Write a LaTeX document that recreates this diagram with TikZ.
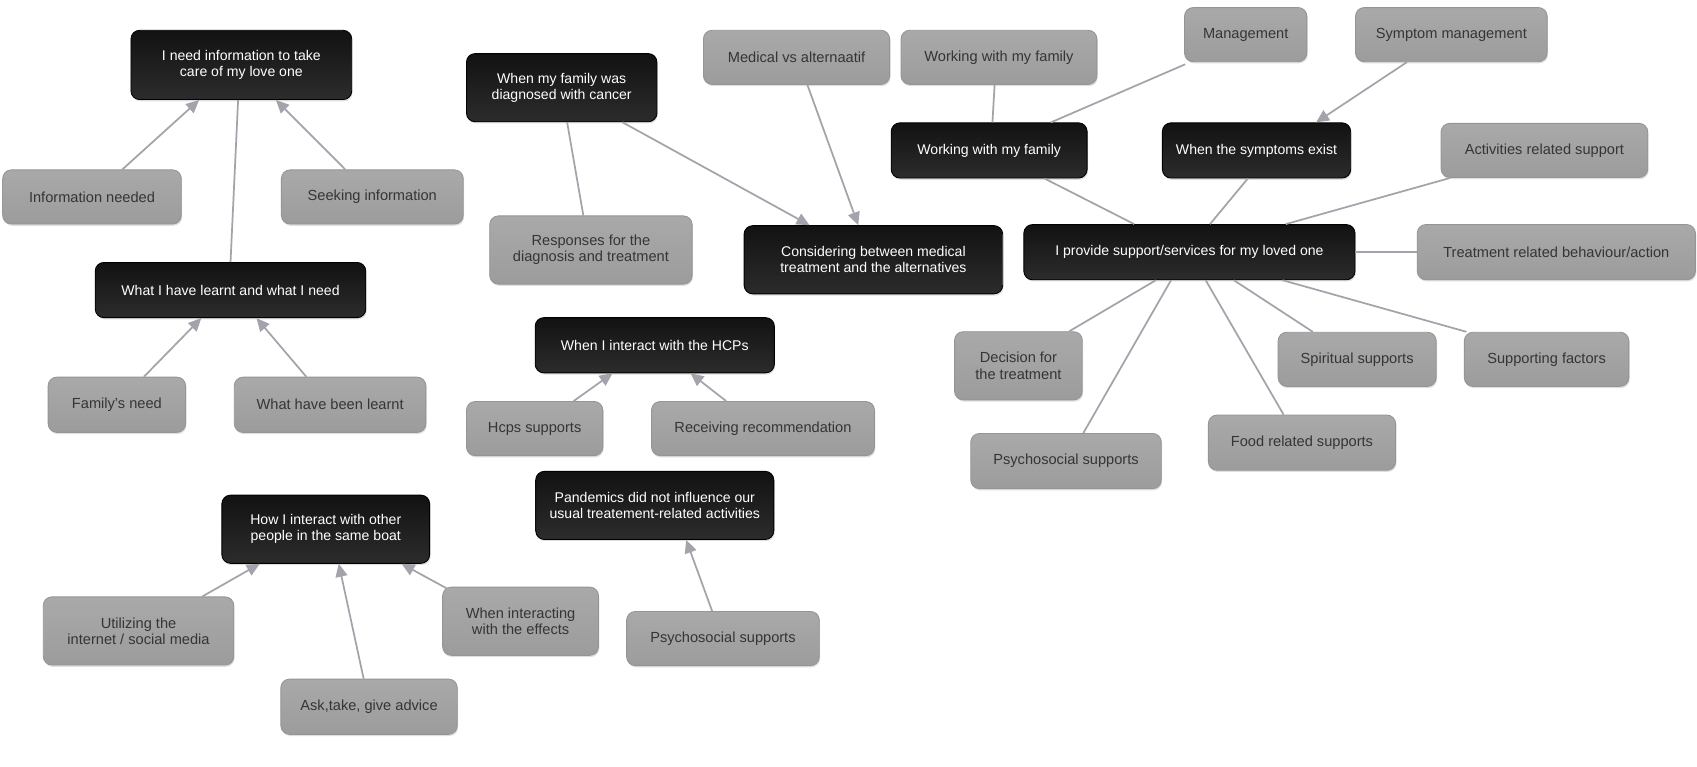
\documentclass[tikz,border=0pt]{standalone}
\usepackage{fontspec}
\setmainfont{Liberation Sans}
\usetikzlibrary{arrows.meta,shadows}
\definecolor{gfill}{HTML}{A9A9A9}
\definecolor{gfillb}{HTML}{9C9C9C}
\definecolor{gborder}{HTML}{959595}
\definecolor{gtext}{HTML}{353535}
\definecolor{bfill}{HTML}{121212}
\definecolor{bfillb}{HTML}{2C2C2C}
\definecolor{edgec}{HTML}{A3A3AB}
\tikzset{
  box/.style={rounded corners=8pt, align=center, inner sep=2pt,
    drop shadow={opacity=0.25, shadow xshift=0.8pt, shadow yshift=-1.6pt}},
  gbox/.style={box, draw=gborder, line width=0.8pt, top color=gfill, bottom color=gfillb, text=gtext,
    font=\fontsize{13.5}{15}\selectfont},
  bbox/.style={box, draw=black, line width=0.8pt, top color=bfill, bottom color=bfillb, text=white,
    font=\fontsize{13}{15}\selectfont},
  link/.style={draw=edgec, line width=1.6pt},
  arr/.style={link, -{Triangle[length=12pt,width=11pt]}}
}
\begin{document}
\begin{tikzpicture}[x=1pt,y=-1pt]
\useasboundingbox[fill=white] (0,0) rectangle (1568,708);
% black nodes
\node[bbox, minimum width=204pt, minimum height=64pt] (n1) at (223,60) {I need information to take\\care of my love one};
\node[bbox, minimum width=250pt, minimum height=51pt] (n2) at (213,268) {What I have learnt and what I need};
\node[bbox, minimum width=176pt, minimum height=63pt] (n3) at (519,81) {When my family was\\diagnosed with cancer};
\node[bbox, minimum width=239pt, minimum height=63pt] (n4) at (807,240) {Considering between medical\\treatment and the alternatives};
\node[bbox, minimum width=181pt, minimum height=51pt] (n5) at (914,139) {Working with my family};
\node[bbox, minimum width=174pt, minimum height=51pt] (n6) at (1161,139) {When the symptoms exist};
\node[bbox, minimum width=306pt, minimum height=51pt] (n7) at (1099,233) {I provide support/services for my loved one};
\node[bbox, minimum width=221pt, minimum height=51pt] (n8) at (605,319) {When I interact with the HCPs};
\node[bbox, minimum width=220pt, minimum height=63pt] (n9) at (605,467) {Pandemics did not influence our\\usual treatement-related activities};
\node[bbox, minimum width=192pt, minimum height=63pt] (n10) at (301,489) {How I interact with other\\people in the same boat};
% gray nodes
\node[gbox, minimum width=165pt, minimum height=50pt] (n11) at (85,182) {Information needed};
\node[gbox, minimum width=168pt, minimum height=50pt] (n12) at (344,182) {Seeking information};
\node[gbox, minimum width=127pt, minimum height=51pt] (n13) at (108,374) {Family's need};
\node[gbox, minimum width=177pt, minimum height=51pt] (n14) at (305,374) {What have been learnt};
\node[gbox, minimum width=187pt, minimum height=63pt] (n15) at (546,231) {Responses for the\\diagnosis and treatment};
\node[gbox, minimum width=172pt, minimum height=50pt] (n16) at (736,53) {Medical vs alternaatif};
\node[gbox, minimum width=181pt, minimum height=50pt] (n17) at (923,53) {Working with my family};
\node[gbox, minimum width=113pt, minimum height=50pt] (n18) at (1151,32) {Management};
\node[gbox, minimum width=177pt, minimum height=50pt] (n19) at (1341,32) {Symptom management};
\node[gbox, minimum width=191pt, minimum height=50pt] (n20) at (1427,139) {Activities related support};
\node[gbox, minimum width=257pt, minimum height=51pt] (n21) at (1438,233) {Treatment related behaviour/action};
\node[gbox, minimum width=118pt, minimum height=63pt] (n22) at (941,338) {Decision for\\the treatment};
\node[gbox, minimum width=146pt, minimum height=50pt] (n23) at (1254,332) {Spiritual supports};
\node[gbox, minimum width=152pt, minimum height=50pt] (n24) at (1429,332) {Supporting factors};
\node[gbox, minimum width=176pt, minimum height=51pt] (n25) at (985,426) {Psychosocial supports};
\node[gbox, minimum width=173pt, minimum height=51pt] (n26) at (1203,409) {Food related supports};
\node[gbox, minimum width=126pt, minimum height=50pt] (n27) at (494,396) {Hcps supports};
\node[gbox, minimum width=206pt, minimum height=50pt] (n28) at (705,396) {Receiving recommendation};
\node[gbox, minimum width=178pt, minimum height=50pt] (n29) at (668,590) {Psychosocial supports};
\node[gbox, minimum width=176pt, minimum height=63pt] (n30) at (128,583) {Utilizing the\\internet / social media};
\node[gbox, minimum width=144pt, minimum height=63pt] (n31) at (481,574) {When interacting\\with the effects};
\node[gbox, minimum width=163pt, minimum height=51pt] (n32) at (341,653) {Ask,take, give advice};
% connectors
\draw[arr] ([xshift=28pt]n11.north) -- ([xshift=-39pt]n1.south);
\draw[arr] ([xshift=-25pt]n12.north) -- ([xshift=32pt]n1.south);
\draw[link] (n2.north) -- ([xshift=-3pt]n1.south);
\draw[arr] ([xshift=25pt]n13.north) -- ([xshift=-27pt]n2.south);
\draw[arr] ([xshift=-22pt]n14.north) -- ([xshift=24pt]n2.south);
\draw[link] ([xshift=5pt]n3.south) -- ([xshift=-7pt]n15.north);
\draw[arr] ([xshift=56pt]n3.south) -- ([xshift=-59pt]n4.north);
\draw[arr] ([xshift=10pt]n16.south) -- ([xshift=-14pt]n4.north);
\draw[link] ([xshift=-4pt]n17.south) -- ([xshift=3pt]n5.north);
\draw[link] ([xshift=1pt,yshift=-2pt]n18.south west) -- ([xshift=57pt]n5.north);
\draw[arr] ([xshift=-41pt]n19.south) -- ([xshift=55pt]n6.north);
\draw[link] ([xshift=51pt]n5.south) -- ([xshift=-51pt]n7.north);
\draw[link] ([xshift=-8pt]n6.south) -- ([xshift=19pt]n7.north);
\draw[link] ([xshift=-87pt]n20.south) -- ([xshift=89pt]n7.north);
\draw[link] (n7.east) -- (n21.west);
\draw[link] ([xshift=-31pt]n7.south) -- ([xshift=47pt]n22.north);
\draw[link] ([xshift=-17pt]n7.south) -- ([xshift=16pt]n25.north);
\draw[link] ([xshift=15pt]n7.south) -- ([xshift=-17pt]n26.north);
\draw[link] ([xshift=41pt]n7.south) -- ([xshift=-41pt]n23.north);
\draw[link] ([xshift=86pt]n7.south) -- ([xshift=-74pt]n24.north);
\draw[arr] ([xshift=36pt]n27.north) -- ([xshift=-39pt]n8.south);
\draw[arr] ([xshift=-34pt]n28.north) -- ([xshift=33pt]n8.south);
\draw[arr] ([xshift=-10pt]n29.north) -- ([xshift=29pt]n9.south);
\draw[arr] ([xshift=59pt]n30.north) -- ([xshift=-61pt]n10.south);
\draw[arr] ([xshift=-5pt]n32.north) -- ([xshift=12pt]n10.south);
\draw[arr] ([xshift=5pt,yshift=-2pt]n31.north west) -- ([xshift=70pt]n10.south);
\end{tikzpicture}
\end{document}
